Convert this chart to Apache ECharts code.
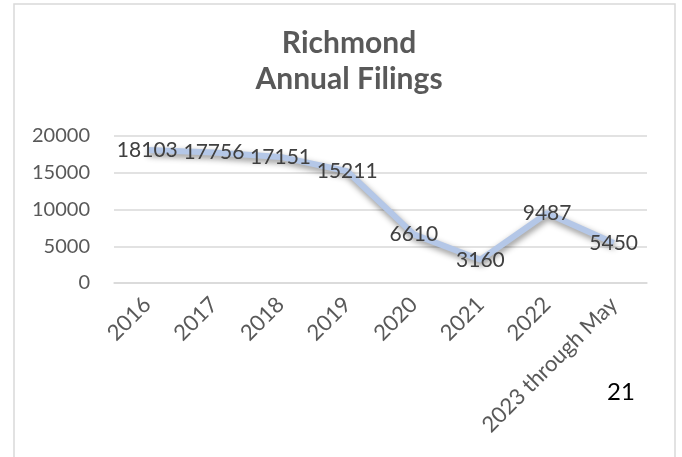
<!DOCTYPE html>
<html><head><meta charset="utf-8">
<script src="https://cdn.jsdelivr.net/npm/echarts@6/dist/echarts.min.js"></script>
<style>html,body{margin:0;padding:0;background:#fff}#c{width:682px;height:457px}</style>
</head><body><div id="c"></div>
<script>
const categories = ['2016','2017','2018','2019','2020','2021','2022','2023 through May'];
const filings = [18103, 17756, 17151, 15211, 6610, 3160, 9487, 5450];
const yTicks = {min: 0, max: 20000, interval: 5000};
const pageNumber = '21';

const chart = echarts.init(document.getElementById('c'), null, {renderer: 'canvas'});
const FONT = 'Lato, "Open Sans", sans-serif';
chart.setOption({
  animation: false,
  backgroundColor: '#fff',
  title: {
    text: 'Richmond\nAnnual Filings',
    top: 20, left: 344, textAlign: 'center',
    textStyle: {fontFamily: FONT, fontSize: 30, fontWeight: 'bold', color: '#595959', lineHeight: 36}
  },
  graphic: [
    {type: 'rect', shape: {x: 14, y: 4, width: 661, height: 470}, style: {fill: 'none', stroke: '#d9d9d9', lineWidth: 1.5}, silent: true},
    {type: 'text', left: 607, top: 380, style: {text: pageNumber, fontFamily: FONT, fontSize: 24, fill: '#000'}}
  ],
  grid: {left: 114, right: 35, top: 136, bottom: 174, containLabel: false},
  xAxis: {
    type: 'category', data: categories, boundaryGap: true,
    axisLine: {show: true, lineStyle: {color: '#d9d9d9', width: 1.5}},
    axisTick: {show: false},
    axisLabel: {rotate: 45, fontFamily: FONT, fontSize: 22, color: '#595959', margin: 18, interval: 0}
  },
  yAxis: {
    type: 'value', min: yTicks.min, max: yTicks.max, interval: yTicks.interval,
    axisLine: {show: false}, axisTick: {show: false},
    splitLine: {lineStyle: {color: '#d9d9d9', width: 1.5}},
    axisLabel: {fontFamily: FONT, fontSize: 20, color: '#595959', margin: 24, formatter: v => String(v)}
  },
  series: [{
    type: 'line', data: filings, symbol: 'circle', symbolSize: 1, showSymbol: true,
    itemStyle: {color: 'rgba(0,0,0,0)', borderWidth: 0},
    lineStyle: {color: '#b4c7e7', width: 6, shadowColor: 'rgba(0,0,0,0.45)', shadowBlur: 6, shadowOffsetX: 1, shadowOffsetY: 3},
    label: {show: true, position: 'inside', offset: [0, 2], fontFamily: FONT, fontSize: 21, color: '#404040', formatter: p => String(p.value)},
    labelLayout: {hideOverlap: false}
  }]
});
</script></body></html>
